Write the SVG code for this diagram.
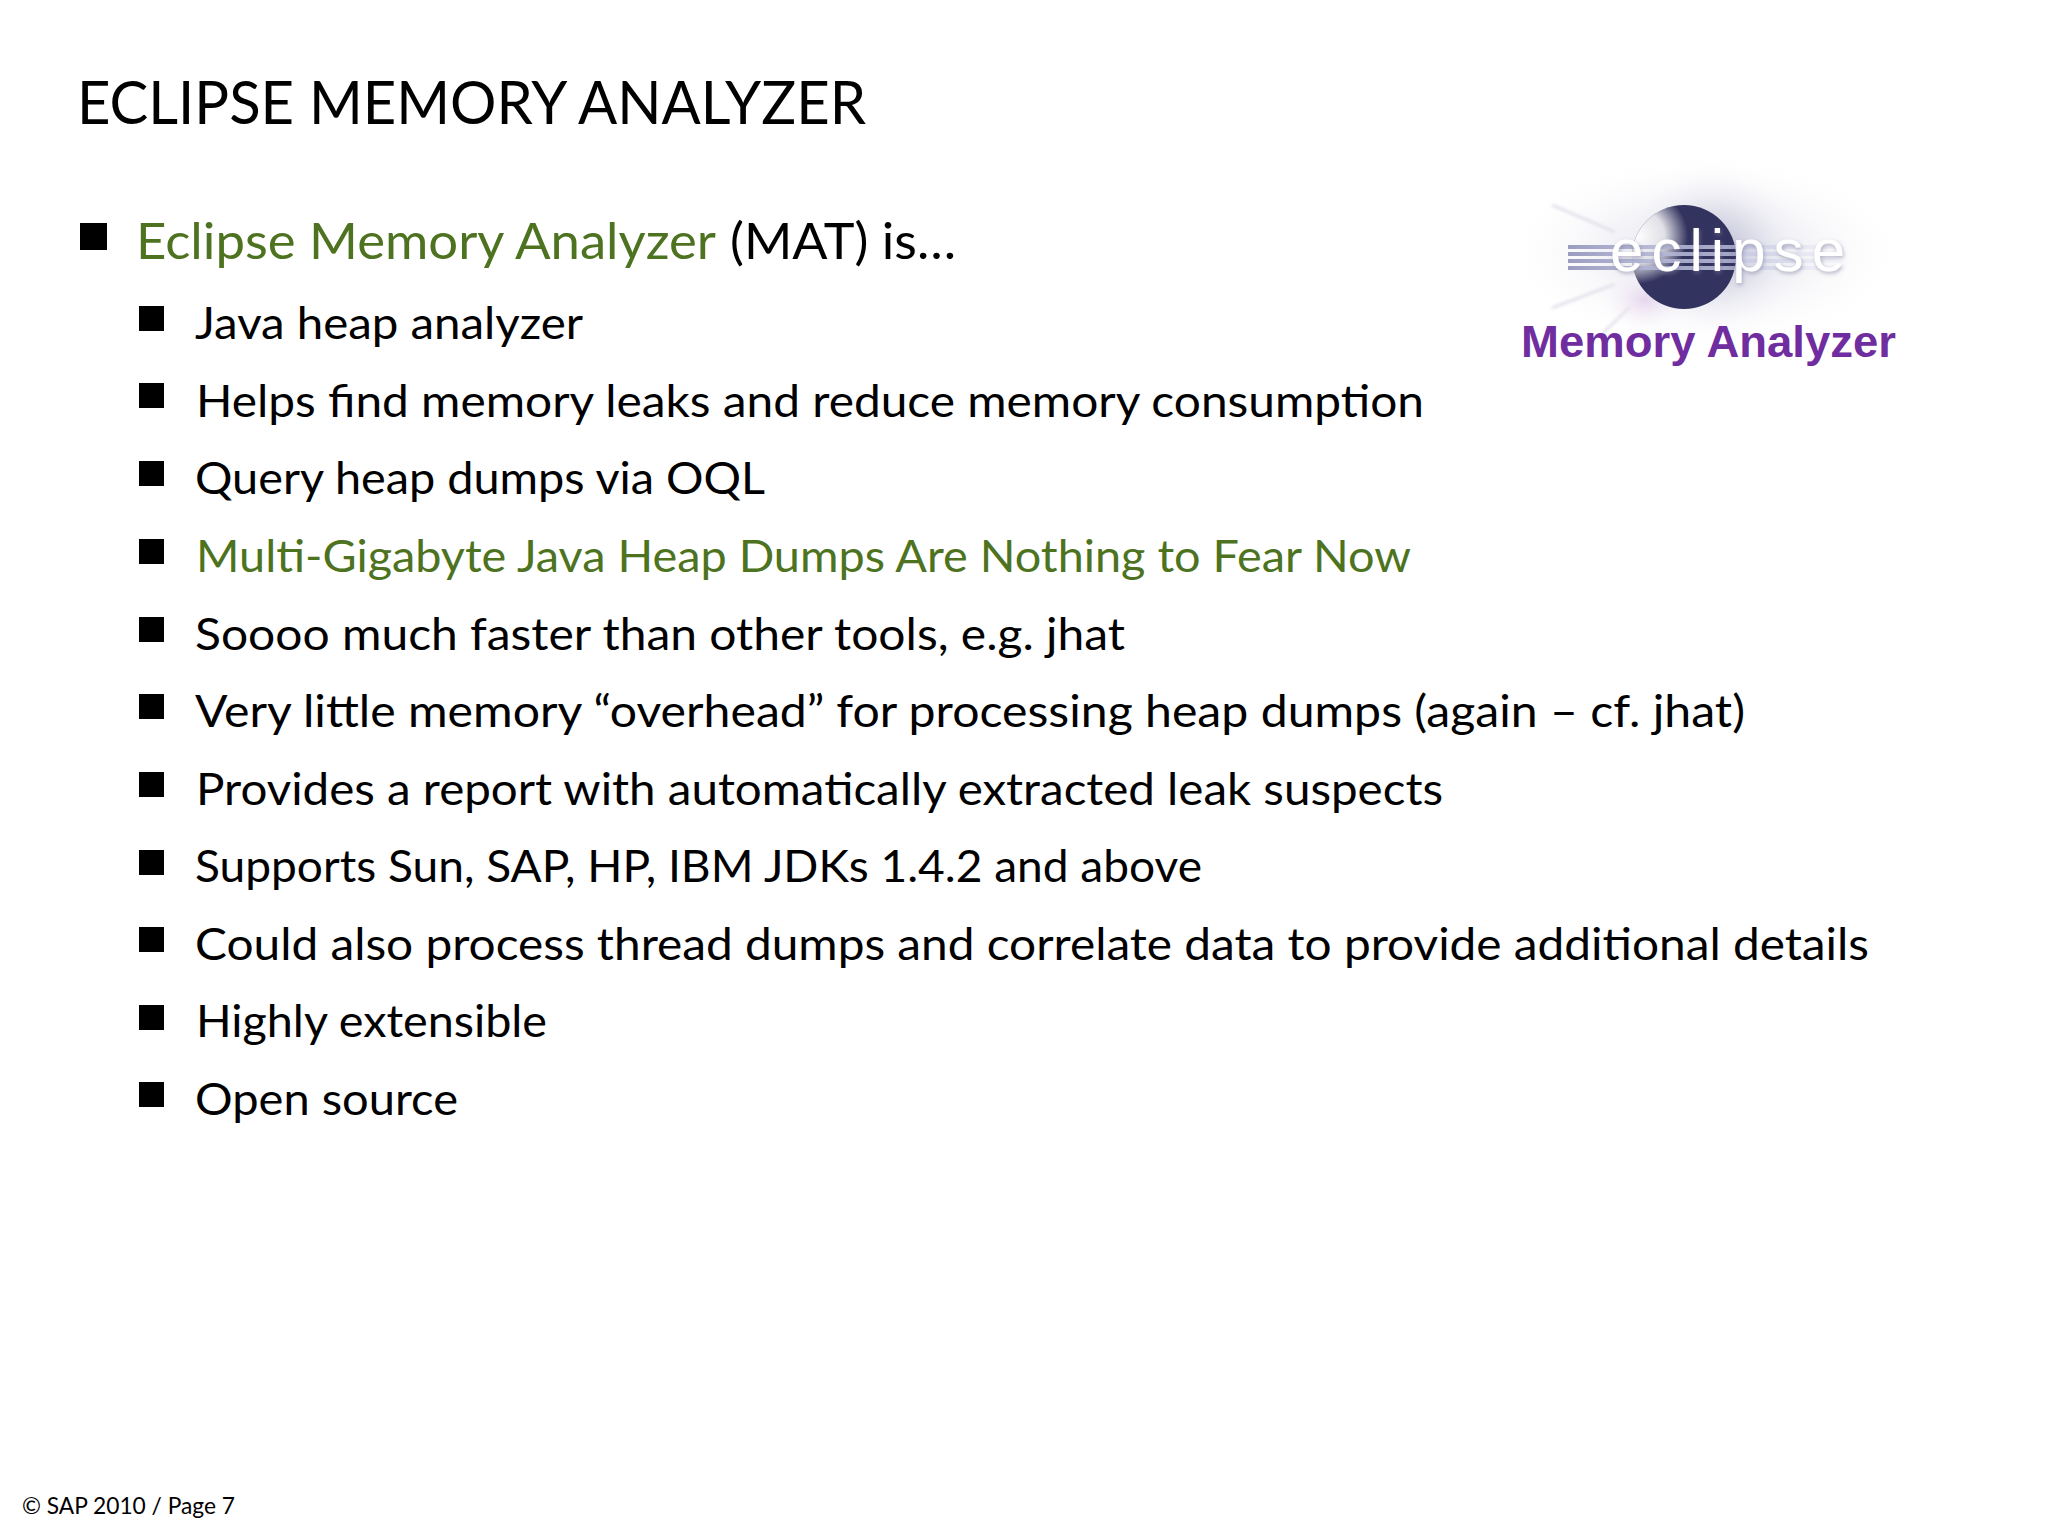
<svg xmlns="http://www.w3.org/2000/svg" width="2048" height="1536" viewBox="0 0 2048 1536">
<defs>
<radialGradient id="glow"><stop offset="0" stop-color="#a9abc8" stop-opacity=".75"/><stop offset=".45" stop-color="#cfcfe0" stop-opacity=".45"/><stop offset="1" stop-color="#fff" stop-opacity="0"/></radialGradient>
<radialGradient id="pink"><stop offset="0" stop-color="#d9c0e4" stop-opacity=".6"/><stop offset="1" stop-color="#fff" stop-opacity="0"/></radialGradient>
<radialGradient id="fade"><stop offset="0" stop-color="#fff"/><stop offset=".55" stop-color="#fff" stop-opacity=".85"/><stop offset="1" stop-color="#fff" stop-opacity="0"/></radialGradient>
<linearGradient id="lines" x1="0" x2="1"><stop offset="0" stop-color="#9a9dc0"/><stop offset=".55" stop-color="#c5c8e4" stop-opacity=".8"/><stop offset="1" stop-color="#c5c8e4" stop-opacity="0"/></linearGradient>
<filter id="soft" x="-20%" y="-20%" width="140%" height="140%"><feGaussianBlur stdDeviation="1.5"/></filter>
<filter id="shadow" x="-10%" y="-20%" width="120%" height="150%"><feDropShadow dx="1" dy="2" stdDeviation="2" flood-color="#8080a0" flood-opacity=".6"/></filter>
<clipPath id="ballclip"><circle cx="1684" cy="257" r="52"/></clipPath>
</defs>
<style>
text{font-family:Lato,"Open Sans","Liberation Sans",sans-serif;fill:#000}
.b{font-size:45px}.h{font-size:50px}.g{fill:#4d7321}
.logo{font-family:"Liberation Sans",sans-serif}
</style>
<rect width="2048" height="1536" fill="#fff"/>
<text x="77" y="124" font-size="60" textLength="789" lengthAdjust="spacingAndGlyphs">ECLIPSE MEMORY ANALYZER</text>
<g id="bullets">
<rect x="80" y="223" width="27" height="27"/>
<rect x="139" y="306" width="25" height="25"/><rect x="139" y="383" width="25" height="25"/><rect x="139" y="461" width="25" height="25"/><rect x="139" y="539" width="25" height="25"/><rect x="139" y="617" width="25" height="25"/><rect x="139" y="694" width="25" height="25"/><rect x="139" y="772" width="25" height="25"/><rect x="139" y="850" width="25" height="25"/><rect x="139" y="927" width="25" height="25"/><rect x="139" y="1005" width="25" height="25"/><rect x="139" y="1082" width="25" height="25"/>
</g>
<text class="h g" x="136" y="259" textLength="580" lengthAdjust="spacingAndGlyphs">Eclipse Memory Analyzer</text>
<text class="h" x="730" y="259" textLength="226" lengthAdjust="spacingAndGlyphs">(MAT) is…</text>
<text class="b" x="195" y="339" textLength="388" lengthAdjust="spacingAndGlyphs">Java heap analyzer</text>
<text class="b" x="196" y="417" textLength="1228" lengthAdjust="spacingAndGlyphs">Helps find memory leaks and reduce memory consumption</text>
<text class="b" x="195" y="494" textLength="570" lengthAdjust="spacingAndGlyphs">Query heap dumps via OQL</text>
<text class="b g" x="196" y="572" textLength="1215" lengthAdjust="spacingAndGlyphs">Multi-Gigabyte Java Heap Dumps Are Nothing to Fear Now</text>
<text class="b" x="195" y="650" textLength="930" lengthAdjust="spacingAndGlyphs">Soooo much faster than other tools, e.g. jhat</text>
<text class="b" x="195" y="727" textLength="1550" lengthAdjust="spacingAndGlyphs">Very little memory “overhead” for processing heap dumps (again – cf. jhat)</text>
<text class="b" x="196" y="805" textLength="1247" lengthAdjust="spacingAndGlyphs">Provides a report with automatically extracted leak suspects</text>
<text class="b" x="195" y="882" textLength="1007" lengthAdjust="spacingAndGlyphs">Supports Sun, SAP, HP, IBM JDKs 1.4.2 and above</text>
<text class="b" x="195" y="960" textLength="1674" lengthAdjust="spacingAndGlyphs">Could also process thread dumps and correlate data to provide additional details</text>
<text class="b" x="196" y="1037" textLength="351" lengthAdjust="spacingAndGlyphs">Highly extensible</text>
<text class="b" x="195" y="1115" textLength="263" lengthAdjust="spacingAndGlyphs">Open source</text>
<g id="logo">
<ellipse cx="1705" cy="252" rx="205" ry="100" fill="url(#glow)" opacity=".6"/>
<ellipse cx="1715" cy="250" rx="95" ry="90" fill="url(#glow)"/>
<ellipse cx="1645" cy="300" rx="50" ry="36" fill="url(#pink)"/>
<g stroke="#e6e3ec" stroke-width="3" fill="none" filter="url(#soft)"><path d="M1615 232L1552 205"/><path d="M1615 284L1552 308"/><path d="M1630 307L1603 333"/></g>
<circle cx="1684" cy="257" r="52" fill="#33335f"/>
<ellipse cx="1636" cy="236" rx="52" ry="48" fill="url(#fade)" clip-path="url(#ballclip)"/>
<g fill="url(#lines)"><rect x="1568" y="245" width="280" height="4"/><rect x="1568" y="252" width="280" height="4"/><rect x="1568" y="259" width="280" height="4"/><rect x="1568" y="266" width="280" height="4"/></g>
<text class="logo" x="1610" y="271" font-size="60" textLength="235" style="font-family:'Liberation Sans',sans-serif;fill:#fff" filter="url(#shadow)">eclipse</text>
<text class="logo" x="1521" y="357" font-size="45" font-weight="700" textLength="375" lengthAdjust="spacingAndGlyphs" style="font-family:'Liberation Sans',sans-serif;fill:#6f2da0">Memory Analyzer</text>
</g>
<text x="22" y="1514" font-size="23" textLength="213" lengthAdjust="spacingAndGlyphs">© SAP 2010 / Page 7</text>
</svg>
